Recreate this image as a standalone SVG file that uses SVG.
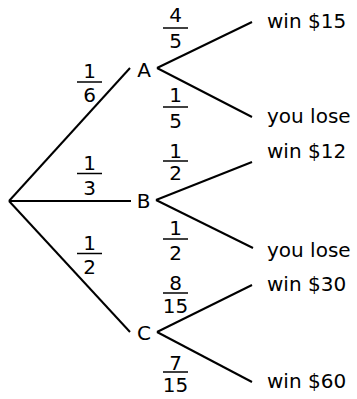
<svg xmlns="http://www.w3.org/2000/svg" width="357" height="399" viewBox="0 0 357 399">
<style>
.e{stroke:#000;stroke-width:2;fill:none;stroke-linecap:butt}
.bar{stroke:#000;stroke-width:1.5}
text{font-family:"DejaVu Sans",sans-serif;font-size:20px;fill:#000}
.m{text-anchor:middle}
</style>
<rect width="357" height="399" fill="#fff"/>
<g id="connectors">
<line class="e" x1="9" y1="201" x2="130" y2="68"/>
<line class="e" x1="9" y1="201" x2="131" y2="201"/>
<line class="e" x1="9" y1="201" x2="130" y2="332"/>
<line class="e" x1="157" y1="68" x2="252" y2="22"/>
<line class="e" x1="157" y1="68" x2="252" y2="117"/>
<line class="e" x1="156" y1="200" x2="252" y2="162"/>
<line class="e" x1="156" y1="200" x2="253" y2="248"/>
<line class="e" x1="157" y1="332" x2="252" y2="285"/>
<line class="e" x1="157" y1="332" x2="252" y2="382"/>
<g id="p-A"><text class="m" x="89.5" y="78">1</text><line class="bar" x1="77" y1="82" x2="102" y2="82"/><text class="m" x="89.5" y="102">6</text></g>
<g id="p-B"><text class="m" x="89.5" y="170">1</text><line class="bar" x1="77" y1="173.5" x2="102" y2="173.5"/><text class="m" x="89.5" y="195">3</text></g>
<g id="p-C"><text class="m" x="89.5" y="250">1</text><line class="bar" x1="77" y1="253.5" x2="102" y2="253.5"/><text class="m" x="89.5" y="274">2</text></g>
<g id="p-A1"><text class="m" x="175.5" y="22">4</text><line class="bar" x1="163" y1="28" x2="188" y2="28"/><text class="m" x="175.5" y="48">5</text></g>
<g id="p-A2"><text class="m" x="175.5" y="102">1</text><line class="bar" x1="163" y1="107" x2="188" y2="107"/><text class="m" x="175.5" y="128">5</text></g>
<g id="p-B1"><text class="m" x="175.5" y="158">1</text><line class="bar" x1="163" y1="161" x2="188" y2="161"/><text class="m" x="175.5" y="180">2</text></g>
<g id="p-B2"><text class="m" x="175.5" y="235">1</text><line class="bar" x1="163" y1="239" x2="188" y2="239"/><text class="m" x="175.5" y="260">2</text></g>
<g id="p-C1"><text class="m" x="175.5" y="290">8</text><line class="bar" x1="163" y1="293" x2="188" y2="293"/><text class="m" x="175.5" y="313">15</text></g>
<g id="p-C2"><text class="m" x="175.5" y="370">7</text><line class="bar" x1="163" y1="372" x2="188" y2="372"/><text class="m" x="175.5" y="392">15</text></g>
</g>
<g id="node-A"><text class="m" x="144" y="77">A</text></g>
<g id="node-B"><text class="m" x="143.5" y="208">B</text></g>
<g id="node-C"><text class="m" x="144" y="340">C</text></g>
<g id="leaf-1"><text x="267" y="28">win $15</text></g>
<g id="leaf-2"><text x="267" y="123">you lose</text></g>
<g id="leaf-3"><text x="267" y="158">win $12</text></g>
<g id="leaf-4"><text x="267" y="257">you lose</text></g>
<g id="leaf-5"><text x="267" y="291">win $30</text></g>
<g id="leaf-6"><text x="267" y="388">win $60</text></g>
</svg>
